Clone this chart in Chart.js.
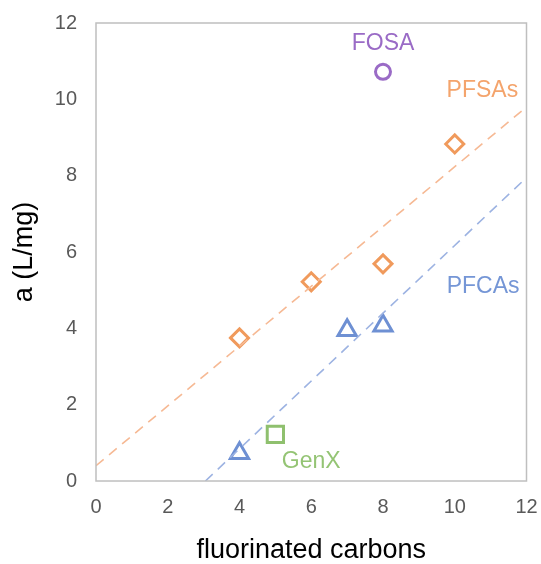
<!DOCTYPE html>
<html>
<head>
<meta charset="utf-8">
<script src="https://cdn.jsdelivr.net/npm/chart.js@4.4.1/dist/chart.umd.min.js"></script>
<style>
  html, body { margin: 0; padding: 0; background: #fff; }
  #wrap { width: 541px; height: 564px; }
</style>
</head>
<body>
<div id="wrap"><canvas id="chart" width="541" height="564"></canvas></div>
<script>
// --- data ---
const xTicks = [0, 2, 4, 6, 8, 10, 12];
const yTicks = [0, 2, 4, 6, 8, 10, 12];

const pfsaX = [4, 6, 8, 10];
const pfsaY = [3.75, 5.22, 5.69, 8.83];

const pfcaX = [4, 7, 8];
const pfcaY = [0.73, 3.95, 4.07];

const genxX = [5];
const genxY = [1.22];

const fosaX = [8];
const fosaY = [10.72];

// trendline ends as drawn in the picture
const pfsaTrendX = [0, 12];
const pfsaTrendY = [0.4, 9.8];
const pfcaTrendX = [3.05, 12];
const pfcaTrendY = [0, 7.95];

// text labels placed in data coordinates
const labelNames = ['FOSA', 'PFSAs', 'PFCAs', 'GenX'];
const labelX = [8.0, 10.77, 10.79, 6.0];
const labelY = [11.47, 10.24, 5.08, 0.5];
const labelColors = ['#9a6bc6', '#f4a46c', '#7596d6', '#94c474'];

const pts = (xs, ys) => xs.map((x, i) => ({ x: x, y: ys[i] }));
const FONT = '"Liberation Sans", Arial, sans-serif';

// fixed scale sizes, no extra label overflow padding
function fixScale(size) {
    return (s) => {
        if (s.isHorizontal()) s.height = size; else s.width = size;
        s.paddingTop = 0; s.paddingBottom = 0; s.paddingLeft = 0; s.paddingRight = 0;
    };
}

const boxPlugin = {
    id: 'box',
    afterDraw(chart) {
        const { ctx, chartArea: a, scales } = chart;
        ctx.save();
        ctx.strokeStyle = '#bfbfbf';
        ctx.lineWidth = 1.5;
        ctx.strokeRect(a.left, a.top, a.right - a.left, a.bottom - a.top);

        ctx.font = '23px ' + FONT;
        ctx.textAlign = 'center';
        ctx.textBaseline = 'middle';
        labelNames.forEach((t, i) => {
            ctx.fillStyle = labelColors[i];
            ctx.fillText(t, scales.x.getPixelForValue(labelX[i]), scales.y.getPixelForValue(labelY[i]));
        });
        ctx.restore();
    }
};

new Chart(document.getElementById('chart'), {
    type: 'scatter',
    data: {
        datasets: [
            {
                type: 'line', data: pts(pfsaTrendX, pfsaTrendY),
                borderColor: '#f6b994', borderWidth: 1.6, borderDash: [10, 7],
                pointRadius: 0, fill: false
            },
            {
                type: 'line', data: pts(pfcaTrendX, pfcaTrendY),
                borderColor: '#9db3e2', borderWidth: 1.6, borderDash: [10, 7],
                pointRadius: 0, fill: false
            },
            {
                data: pts(pfsaX, pfsaY), pointStyle: 'rectRot', pointRadius: 9,
                borderColor: '#f09a5c', borderWidth: 3, backgroundColor: 'transparent'
            },
            {
                data: pts(pfcaX, pfcaY), pointStyle: 'triangle', pointRadius: 10.5,
                borderColor: '#6e90d3', borderWidth: 3, backgroundColor: 'transparent'
            },
            {
                data: pts(genxX, genxY), pointStyle: 'rect', pointRadius: 11.5,
                borderColor: '#8fc06e', borderWidth: 3, backgroundColor: 'transparent'
            },
            {
                data: pts(fosaX, fosaY), pointStyle: 'circle', pointRadius: 7.5,
                borderColor: '#9a6bc6', borderWidth: 3, backgroundColor: 'transparent'
            }
        ]
    },
    options: {
        responsive: false,
        animation: false,
        layout: { padding: { left: 0, right: 13, top: 23, bottom: 0 } },
        plugins: { legend: { display: false }, tooltip: { enabled: false } },
        scales: {
            x: {
                type: 'linear', min: 0, max: 12,
                afterBuildTicks: (s) => { s.ticks = xTicks.map(v => ({ value: v })); },
                afterFit: fixScale(83),
                grid: { display: false, drawTicks: false },
                border: { display: false },
                ticks: { color: '#595959', padding: 14, font: { size: 20, family: FONT } },
                title: { display: true, text: 'fluorinated carbons', color: '#000', padding: 0,
                         font: { size: 27, family: FONT, lineHeight: 1 } }
            },
            y: {
                type: 'linear', min: 0, max: 12,
                afterBuildTicks: (s) => { s.ticks = yTicks.map(v => ({ value: v })); },
                afterFit: fixScale(96),
                grid: { display: false, drawTicks: false },
                border: { display: false },
                ticks: { color: '#595959', padding: 19, font: { size: 20, family: FONT } },
                title: { display: true, text: 'a (L/mg)', color: '#000', padding: 11,
                         font: { size: 27, family: FONT, lineHeight: 1 } }
            }
        }
    },
    plugins: [boxPlugin]
});
</script>
</body>
</html>
